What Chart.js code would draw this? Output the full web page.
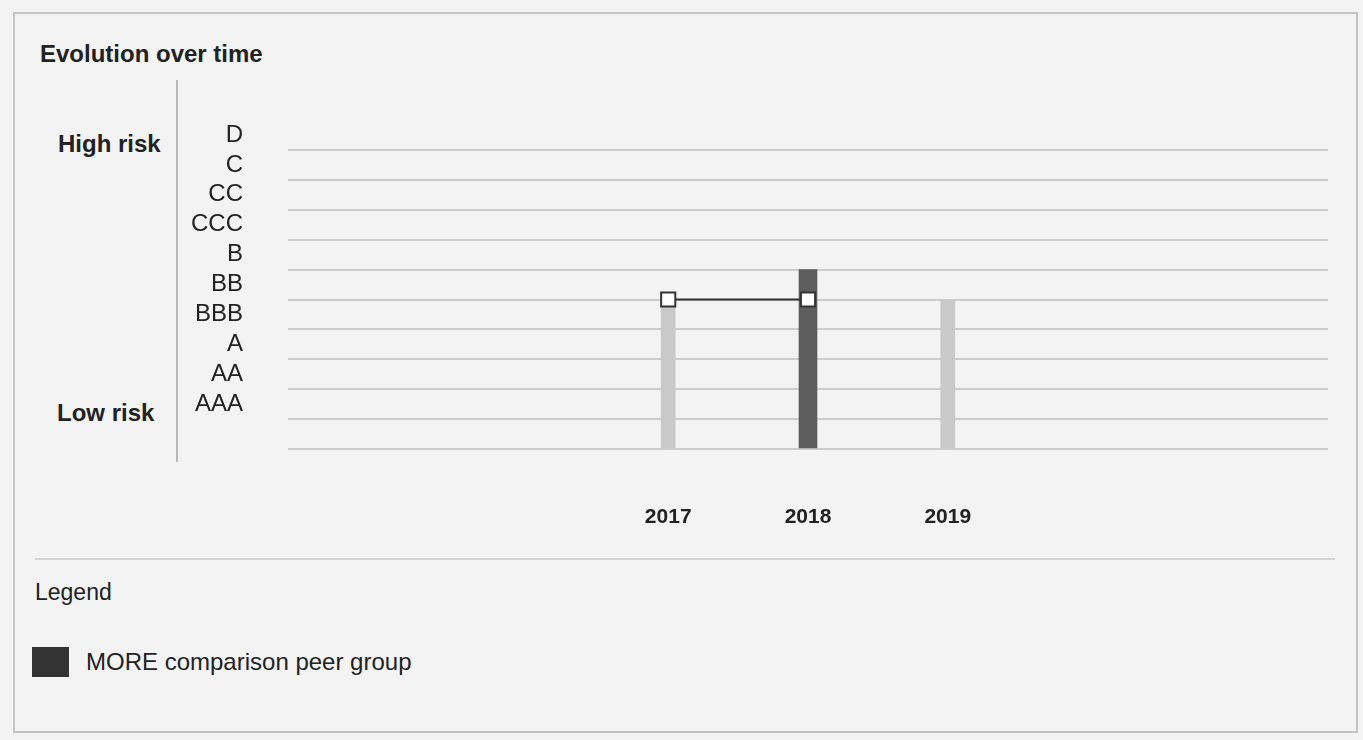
<!DOCTYPE html>
<html>
<head>
<meta charset="utf-8">
<script src="https://cdn.jsdelivr.net/npm/chart.js@4/dist/chart.umd.min.js"></script>
<style>
  html, body { margin: 0; padding: 0; background: #f3f3f3; }
  body { width: 1363px; height: 740px; position: relative; overflow: hidden;
         font-family: "Liberation Sans", Arial, sans-serif; color: #222; }
  .frame { position: absolute; left: 13px; top: 12px; width: 1345px; height: 721px;
           border: 2px solid #c4c4c4; box-sizing: border-box; }
  .title { position: absolute; left: 40px; top: 40px; font-size: 24px; font-weight: bold; }
  .risk { position: absolute; font-size: 24px; font-weight: bold; }
  .divider { position: absolute; left: 176px; top: 80px; width: 2px; height: 382px; background: #b8b8b8; }
  .chart-box { position: absolute; left: 180px; top: 90px; width: 1160px; height: 441px; }
  .sep { position: absolute; left: 35px; top: 558px; width: 1300px; height: 2px; background: #d4d4d4; }
  .legend-title { position: absolute; left: 35px; top: 579px; font-size: 23px; }
  .legend-item { position: absolute; left: 32px; top: 647px; display: flex; align-items: center; }
  .legend-item .swatch { width: 37px; height: 30px; }
  .legend-item .text { margin-left: 17px; font-size: 24px; }
</style>
</head>
<body>
<div class="frame"></div>
<div class="title">Evolution over time</div>
<div class="risk" style="left:58px; top:130px;">High risk</div>
<div class="risk" style="left:57px; top:399px;">Low risk</div>
<div class="divider"></div>
<div class="chart-box"><canvas id="evolution"></canvas></div>
<div class="sep"></div>
<div class="legend-title">Legend</div>
<div class="legend-item"><div class="swatch" id="legendSwatch"></div><div class="text" id="legendText"></div></div>

<script>
// rating scale, bottom (low risk) to top (high risk)
var ratingLevels = ["AAA", "AA", "A", "BBB", "BB", "B", "CCC", "CC", "C", "D"];
var years = [2017, 2018, 2019];

// positions on the rating scale (1 = AAA ... 10 = D)
var ownRating = [5, null, 5];
var peerGroupRating = [null, 6, null];
var ratingTrend = [5, 5, null];

function toPoints(values) {
  return years.map(function(year, i) {
    return { x: year, y: values[i] };
  });
}

Chart.defaults.font.family = '"Liberation Sans", Arial, sans-serif';
Chart.defaults.color = "#222";

var ctx = document.getElementById("evolution").getContext("2d");
var chart = new Chart(ctx, {
  type: "bar",
  data: {
    datasets: [
      {
        type: "line",
        label: "Rating",
        data: toPoints(ratingTrend),
        borderColor: "#333",
        borderWidth: 2,
        pointStyle: "rect",
        pointRadius: 10,
        pointBackgroundColor: "#fff",
        pointBorderColor: "#333",
        pointBorderWidth: 2,
        spanGaps: false,
        order: 0
      },
      {
        label: "MORE comparison peer group",
        data: toPoints(peerGroupRating),
        backgroundColor: "#5e5e5e",
        barThickness: 18,
        grouped: false,
        order: 1
      },
      {
        label: "Company",
        data: toPoints(ownRating),
        backgroundColor: "#c9c9c9",
        barThickness: 14,
        grouped: false,
        order: 2
      }
    ]
  },
  options: {
    responsive: true,
    maintainAspectRatio: false,
    animation: false,
    layout: { padding: { top: 60, right: 10, bottom: 0, left: 0 } },
    plugins: {
      legend: { display: false },
      tooltip: { enabled: false }
    },
    scales: {
      x: {
        type: "linear",
        offset: false,
        min: 2014.28,
        max: 2021.72,
        afterBuildTicks: function(scale) {
          scale.ticks = years.map(function(y) { return { value: y }; });
        },
        afterFit: function(scale) { scale.height = 82; },
        grid: { display: false, drawTicks: false },
        border: { display: false },
        ticks: {
          padding: 56,
          font: { size: 21, weight: "bold" },
          callback: function(value) { return String(value); }
        }
      },
      y: {
        min: 0,
        max: 10,
        afterFit: function(scale) { scale.width = 108; },
        grid: { color: "#cdcdcd", lineWidth: 2, drawTicks: false },
        border: { display: false },
        ticks: {
          stepSize: 1,
          autoSkip: false,
          padding: 45,
          labelOffset: -15,
          font: { size: 24, lineHeight: 1 },
          callback: function(value) {
            return value >= 1 ? ratingLevels[value - 1] : "";
          }
        }
      }
    }
  }
});

// legend entry for the peer group series
var peer = chart.data.datasets[1];
document.getElementById("legendSwatch").style.background = "#333";
document.getElementById("legendText").textContent = peer.label;
</script>
</body>
</html>
